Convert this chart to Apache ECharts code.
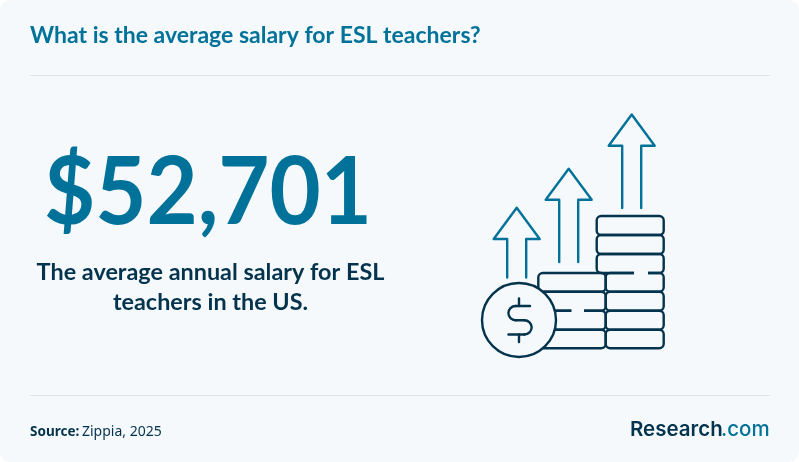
<!DOCTYPE html>
<html><head><meta charset="utf-8">
<style>html,body{margin:0;padding:0;background:#fff}#c{width:799px;height:462px}</style>
<script src="https://cdn.jsdelivr.net/npm/echarts@6/dist/echarts.min.js"></script>
</head><body><div id="c"></div>
<script>
const titleText = "What is the average salary for ESL teachers?";
const statValue = "$52,701";
const statLines = ["The average annual salary for ESL", "teachers in the US."];
const sourceLabel = "Source:";
const sourceText = "Zippia, 2025";
const logoParts = ["Research", ".com"];

const TEAL = "#00729a", DARK = "#03334d", BG = "#f6f9fb", RULE = "#dfe4e7";
const FONT = 'Lato';
const chart = echarts.init(document.getElementById("c"), null, {renderer:"canvas"});
const g = [];
g.push({type:"rect",shape:{x:0,y:0,width:799,height:462,r:10},style:{fill:BG},silent:true});
g.push({type:"text",x:30,y:36,style:{text:titleText,fill:TEAL,font:`700 23px ${FONT}`,textVerticalAlign:"middle"}});
for (const y of [75.5,395.5]) g.push({type:"line",shape:{x1:30,y1:y,x2:770,y2:y},style:{stroke:RULE,lineWidth:1}});
g.push({type:"text",x:208,y:194,scaleX:0.94,style:{text:statValue,fill:TEAL,font:`700 94px ${FONT}`,textAlign:"center",textVerticalAlign:"middle"}});
statLines.forEach((t,i)=>g.push({type:"text",x:210.5,y:272+i*30,style:{text:t,fill:DARK,font:`700 23.4px ${FONT}`,textAlign:"center",textVerticalAlign:"middle"}}));
g.push({type:"text",x:30,y:432,style:{text:sourceLabel,fill:DARK,font:`700 13.5px "Noto Sans"`,textVerticalAlign:"middle"}});
g.push({type:"text",x:82,y:432,style:{text:sourceText,fill:DARK,font:`400 14px "Noto Sans"`,textVerticalAlign:"middle"}});
g.push({type:"text",x:630,y:430,style:{text:logoParts[0],fill:DARK,font:`600 20.5px Inter`,textVerticalAlign:"middle"}});
g.push({type:"text",x:721,y:430,style:{text:logoParts[1],fill:TEAL,font:`500 20.5px Inter`,textVerticalAlign:"middle"}});

// icon
const dk = {stroke:DARK,lineWidth:2.4,fill:"none",lineCap:"round",lineJoin:"round"};
const tl = {stroke:TEAL,lineWidth:2.4,fill:"none",lineCap:"round",lineJoin:"round"};
function arrow(tipX,tipY,wingY,halfW,halfS,botY){
  g.push({type:"polyline",shape:{points:[[tipX-halfS,botY],[tipX-halfS,wingY],[tipX-halfW,wingY],[tipX,tipY],[tipX+halfW,wingY],[tipX+halfS,wingY],[tipX+halfS,botY]]},style:tl});
}
arrow(631.7,114.5,145.7,23,9.5,208);
arrow(568.7,168.7,199.7,23,9.5,262);
arrow(516.7,207.7,239,23,9.5,277.5);
const ys=[216,235,254,273,291.7,310.7,329.7,348.3];
function row(x,w,y1,y2){g.push({type:"rect",shape:{x,y:y1,width:w,height:y2-y1,r:4.5},style:dk});}
for(let i=0;i<3;i++)row(596.7,67,ys[i],ys[i+1]);
for(let i=3;i<7;i++)row(605.7,58,ys[i],ys[i+1]);
for(let i=3;i<7;i++)row(538.3,67.4,ys[i],ys[i+1]);
g.push({type:"line",shape:{x1:634,y1:273,x2:648,y2:273},style:{stroke:BG,lineWidth:4.5}});
g.push({type:"line",shape:{x1:571.5,y1:310.7,x2:584,y2:310.7},style:{stroke:BG,lineWidth:4.5}});
g.push({type:"circle",shape:{cx:519,cy:320,r:37},style:{stroke:DARK,lineWidth:2.4,fill:BG}});
g.push({type:"line",shape:{x1:519,y1:298.5,x2:519,y2:306},style:dk});
g.push({type:"line",shape:{x1:519,y1:334.5,x2:519,y2:342},style:dk});
g.push({type:"line",shape:{x1:515.5,y1:306,x2:530,y2:306},style:dk});
g.push({type:"line",shape:{x1:515.5,y1:320.2,x2:524.5,y2:320.2},style:dk});
g.push({type:"line",shape:{x1:508.5,y1:334.5,x2:524.5,y2:334.5},style:dk});
g.push({type:"arc",shape:{cx:515.5,cy:313.1,r:7.1,startAngle:-Math.PI/2,endAngle:Math.PI/2,clockwise:false},style:dk});
g.push({type:"arc",shape:{cx:524.5,cy:327.35,r:7.15,startAngle:-Math.PI/2,endAngle:Math.PI/2,clockwise:true},style:dk});
chart.setOption({animation:false,graphic:{elements:g}});
</script></body></html>
